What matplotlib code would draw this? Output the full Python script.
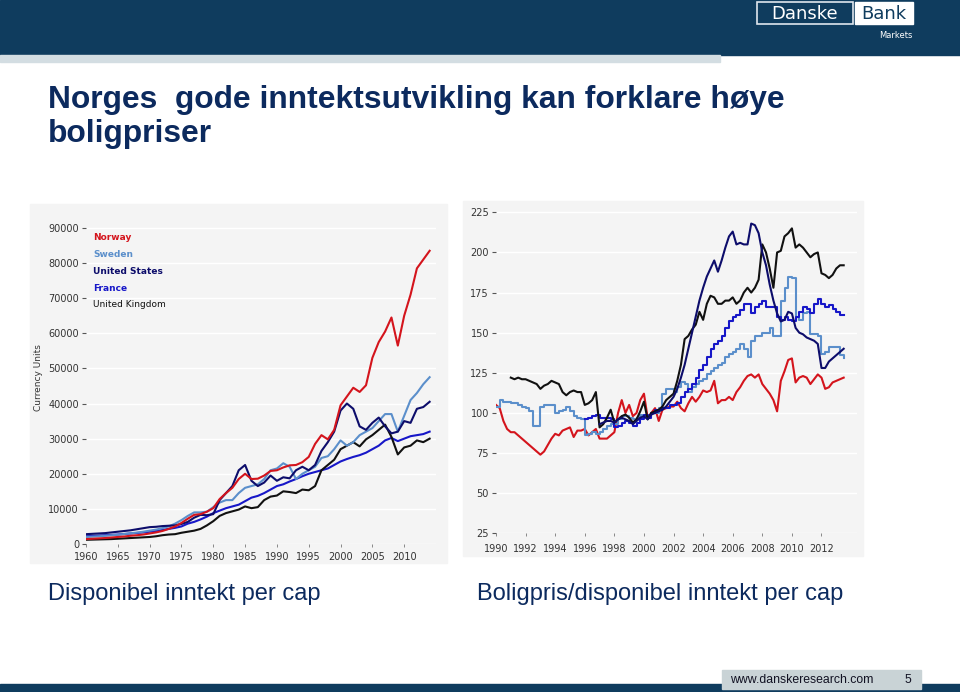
import numpy as np
import matplotlib.pyplot as plt
from matplotlib.patches import Rectangle

# ---- left chart: disposable income per capita (annual) ----
years = list(range(1960, 2015))
norway = [1400, 1500, 1600, 1700, 1850, 2000, 2150, 2350, 2500, 2700,
          3000, 3300, 3700, 4300, 5000, 6000, 7200, 8300, 8500, 9200,
          10200, 12800, 14500, 16000, 18500, 20000, 18500, 18600, 19500, 20800,
          21000, 21800, 22400, 22500, 23300, 24800, 28500, 31000, 29800, 32500,
          39500, 42000, 44500, 43300, 45200, 53000, 57500, 60500, 64500, 56500,
          65000, 71000, 78500, 81000, 83500]
sweden = [2000, 2100, 2200, 2350, 2500, 2650, 2850, 3050, 3250, 3500,
          3800, 4100, 4500, 5000, 5800, 6800, 8000, 9000, 9000, 9200,
          10500, 11800, 12500, 12500, 14500, 16000, 16500, 17000, 18500, 21000,
          21500, 23000, 22000, 18500, 20000, 21000, 22000, 24500, 25000, 27000,
          29500, 28000, 29000, 31000, 32000, 33000, 35000, 37000, 37000, 32000,
          36500, 41000, 43000, 45500, 47500]
usa = [2800, 2900, 3000, 3100, 3300, 3500, 3700, 3900, 4200, 4500,
       4800, 4900, 5100, 5200, 5300, 5700, 6300, 7500, 8300, 8200,
       8500, 12500, 14500, 16500, 21000, 22500, 18000, 16500, 17500, 19500,
       18000, 19000, 18700, 21000, 22000, 21000, 22500, 26500, 29000, 32000,
       38000, 40000, 38500, 33500, 32500, 34500, 36000, 33500, 31500, 32000,
       35000, 34500, 38500, 39000, 40500]
france = [2200, 2300, 2400, 2500, 2600, 2700, 2850, 3000, 3150, 3300,
          3500, 3700, 4000, 4300, 4600, 5000, 5800, 6300, 7000, 7800,
          8800, 9500, 10200, 10700, 11200, 12200, 13200, 13700, 14500, 15500,
          16500, 17000, 17800, 18500, 19300, 20000, 20500, 21000, 21500, 22500,
          23500, 24200, 24800, 25300, 26000, 27000, 28000, 29500, 30200, 29300,
          30000, 30700, 31000, 31300, 32000]
uk = [1200, 1250, 1300, 1350, 1400, 1500, 1600, 1700, 1800, 1900,
      2000, 2200, 2500, 2700, 2800, 3200, 3500, 3800, 4300, 5300,
      6500, 8000, 8800, 9300, 9800, 10700, 10200, 10500, 12500, 13500,
      13800, 15000, 14800, 14500, 15500, 15300, 16500, 21000, 22500, 24000,
      27000, 28000, 29000, 27800, 29800, 31000, 32500, 34000, 30500, 25500,
      27500, 28000, 29500, 29000, 30000]

# ---- right chart: house price / disposable income (quarterly, 1990=100) ----
no_q = [105, 103, 95, 90, 88, 88, 86, 84, 82, 80, 78, 76,
        74, 76, 80, 84, 87, 86, 89, 90, 91, 85, 89, 89,
        90, 86, 88, 90, 84, 84, 84, 86, 88, 100, 108, 100,
        105, 98, 100, 108, 112, 97, 100, 103, 95, 102, 103, 104,
        104, 107, 103, 101, 106, 110, 107, 110, 114, 113, 114, 120,
        106, 108, 108, 110, 108, 113, 116, 120, 123, 124, 122, 124,
        118, 115, 112, 108, 101, 120, 126, 133, 134, 119, 122, 123,
        122, 118, 121, 124, 122, 115, 116, 119, 120, 121, 122]
se_q = [104, 108, 107, 107, 106, 106, 105, 104, 103, 101, 92, 92,
        104, 105, 105, 105, 100, 101, 102, 104, 101, 98, 97, 96,
        86, 87, 88, 87, 88, 90, 92, 93, 93, 96, 98, 98,
        97, 96, 97, 99, 98, 98, 100, 100, 103, 112, 115, 115,
        113, 116, 119, 118, 113, 116, 118, 120, 121, 124, 126, 128,
        130, 131, 135, 137, 138, 140, 143, 140, 135, 145, 148, 148,
        150, 150, 153, 148, 148, 170, 178, 185, 184, 160, 158, 162,
        163, 149, 149, 148, 137, 138, 141, 141, 141, 136, 134]
us_q = [93, 94, 95, 95, 94, 96, 97, 96, 95, 93, 95, 97,
        98, 96, 99, 100, 101, 102, 104, 107, 110, 115, 122, 130,
        140, 150, 160, 170, 178, 185, 190, 195, 188, 195, 203, 210,
        213, 205, 206, 205, 205, 218, 217, 212, 200, 192, 180, 170,
        162, 157, 158, 163, 162, 153, 150, 149, 147, 146, 145, 143,
        128, 128, 132, 134, 136, 138, 140]
fr_q = [96, 97, 98, 99, 97, 97, 97, 96, 91, 92, 94, 95,
        94, 92, 94, 96, 99, 97, 100, 102, 102, 103, 103, 105,
        105, 106, 110, 113, 115, 118, 122, 127, 130, 135, 140, 143,
        145, 148, 153, 157, 160, 161, 164, 168, 168, 162, 166, 168,
        170, 166, 166, 166, 160, 158, 160, 158, 157, 160, 163, 166,
        165, 162, 168, 171, 168, 166, 167, 165, 163, 161, 161]
uk_q = [122, 121, 122, 121, 121, 120, 119, 118, 115, 117, 118, 120,
        119, 118, 113, 111, 113, 114, 113, 113, 105, 106, 108, 113,
        91, 93, 97, 102, 94, 96, 98, 99, 97, 94, 96, 101,
        107, 96, 100, 101, 102, 104, 108, 110, 112, 120, 130, 146,
        148, 152, 155, 163, 158, 168, 173, 172, 168, 168, 170, 170,
        172, 168, 170, 175, 178, 175, 178, 183, 205, 200, 190, 178,
        200, 201, 210, 212, 215, 203, 205, 203, 200, 197, 199, 200,
        187, 186, 184, 186, 190, 192, 192]

no_t = 1990 + np.arange(len(no_q)) / 4
se_t = 1990 + np.arange(len(se_q)) / 4
us_t = 1997 + np.arange(len(us_q)) / 4
fr_t = 1996 + np.arange(len(fr_q)) / 4
uk_t = 1991 + np.arange(len(uk_q)) / 4

RED = '#d4141c'
LBLUE = '#5b8fcb'
NAVY = '#0d0d6b'
BLUE = '#1717c8'
BLACK = '#111111'
DARK = '#0f3c5e'
TITLE = '#0c2a5e'
PANEL = '#f4f4f4'

W, H = 960, 692
fig = plt.figure(figsize=(9.6, 6.92), dpi=100)


def box(x0, y0, x1, y1, **kw):
    # rectangle in pixel coords measured from the top-left corner
    kw.setdefault('zorder', -5)
    fig.patches.append(Rectangle((x0 / W, 1 - y1 / H), (x1 - x0) / W, (y1 - y0) / H,
                                 transform=fig.transFigure, **kw))


def ftext(x, y, s, **kw):
    fig.text(x / W, 1 - y / H, s, **kw)


# header / footer
box(0, 0, W, 55, color=DARK)
box(0, 55, 720, 62, color='#d3dde2')
box(757, 2, 853, 24, facecolor='none', edgecolor='#dfe6ee', lw=1.2, zorder=-4)
box(855, 2, 913, 24, color='white', zorder=-4)
ftext(805, 14, 'Danske', color='white', fontsize=13, ha='center', va='center',
      family='DejaVu Sans')
ftext(884, 14, 'Bank', color=DARK, fontsize=13, ha='center', va='center',
      family='DejaVu Sans')
ftext(913, 35, 'Markets', color='white', fontsize=6, ha='right', va='center')
box(0, 684, W, H, color=DARK)
box(722, 670, 921, 689, color='#c9d3d6', zorder=-4)
ftext(730, 680, 'www.danskeresearch.com', fontsize=8.8, va='center',
      color='#111122', family='Liberation Sans')
ftext(908, 680, '5', fontsize=8.8, va='center', ha='center', color='#111122',
      family='Liberation Sans')

# title and captions
ftext(48, 108, 'Norges  gode inntektsutvikling kan forklare høye', fontsize=22.9,
      fontweight='bold', color=TITLE, family='Liberation Sans', va='baseline')
ftext(48, 142, 'boligpriser', fontsize=22.9, fontweight='bold', color=TITLE,
      family='Liberation Sans', va='baseline')
ftext(48, 600, 'Disponibel inntekt per cap', fontsize=17, color=TITLE,
      family='Liberation Sans', va='baseline')
ftext(477, 600, 'Boligpris/disponibel inntekt per cap', fontsize=17, color=TITLE,
      family='Liberation Sans', va='baseline')

# chart panels
box(30, 204, 447, 563, color=PANEL)
box(463, 201, 863, 556, color=PANEL)


def style(ax, xpad):
    ax.set_facecolor('none')
    for s in ax.spines.values():
        s.set_visible(False)
    ax.grid(axis='y', color='white', lw=1)
    ax.set_axisbelow(True)
    ax.tick_params(axis='y', length=3, width=0.8, color='#555555', pad=2,
                   labelsize=7, labelcolor='#333333')
    ax.tick_params(axis='x', length=2, width=0.6, color='#777777', pad=xpad,
                   labelsize=7, labelcolor='#333333')


# left chart
ax1 = fig.add_axes([86 / W, 1 - 544 / H, 350 / W, 333.6 / H])
style(ax1, 3.5)
ax1.plot(years, france, color=BLUE, lw=1.5)
ax1.plot(years, uk, color=BLACK, lw=1.5)
ax1.plot(years, sweden, color=LBLUE, lw=1.5)
ax1.plot(years, usa, color=NAVY, lw=1.5)
ax1.plot(years, norway, color=RED, lw=1.5)
ax1.set_xlim(1960, 2015)
ax1.set_ylim(0, 95000)
ax1.set_yticks(range(0, 90001, 10000))
ax1.set_xticks(range(1960, 2011, 5))
ax1.set_ylabel('Currency Units', fontsize=6.5, color='#333333', labelpad=4)
legend_items = [('Norway', RED), ('Sweden', LBLUE), ('United States', NAVY),
                ('France', BLUE), ('United Kingdom', BLACK)]
for i, (name, col) in enumerate(legend_items):
    ax1.text(1961.1, 87300 - i * 4800, name, color=col, fontsize=6.5,
             va='center', fontweight='bold' if i < 4 else 'normal')

# right chart
ax2 = fig.add_axes([496 / W, 1 - 533.3 / H, 361 / W, 329 / H])
style(ax2, 6)
ax2.plot(no_t, no_q, color=RED, lw=1.5)
ax2.plot(se_t, se_q, color=LBLUE, lw=1.5, drawstyle='steps-post')
ax2.plot(fr_t, fr_q, color=BLUE, lw=1.5, drawstyle='steps-post')
ax2.plot(uk_t, uk_q, color=BLACK, lw=1.5)
ax2.plot(us_t, us_q, color=NAVY, lw=1.5)
ax2.set_xlim(1990, 2014.4)
ax2.set_ylim(25, 230)
ax2.set_yticks(range(25, 226, 25))
ax2.set_xticks(range(1990, 2013, 2))

fig.savefig('out.png', dpi=100)
